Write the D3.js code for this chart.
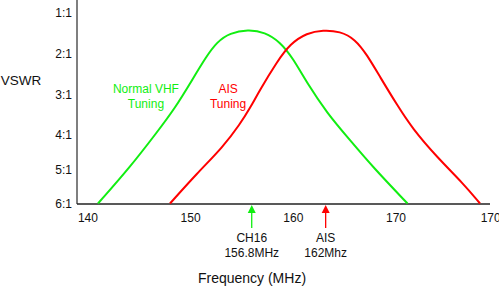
<!DOCTYPE html>
<html>
<head>
<meta charset="utf-8">
<script src="https://cdn.jsdelivr.net/npm/d3@7"></script>
<style>
  body { margin: 0; background: #fff; }
  svg { display: block; font-family: "Liberation Sans", Arial, sans-serif; }
</style>
</head>
<body>
<script>
// VSWR (x:1) against frequency
const vswrTicks = [1, 2, 3, 4, 5, 6];
const freqTicks = [140, 150, 160, 170, 180];
const freqTickLabels = ["140", "150", "160", "170", "170"]; // the original labels the last tick 170 too

const vhfFreq = [141.03, 144.15, 146.78, 148.53, 150.19, 151.55, 152.62, 153.88, 155.63, 157.29, 158.75, 160.01, 161.38, 163.33, 165.57, 167.81, 171.17];
const vhfVswr = [6.0, 4.94, 3.93, 3.34, 2.65, 2.08, 1.71, 1.49, 1.41, 1.47, 1.71, 2.11, 2.72, 3.46, 4.15, 4.94, 6.0];

const aisFreq = [148.04, 150.67, 153.2, 154.86, 155.83, 156.8, 158.46, 159.73, 161.38, 162.94, 164.6, 166.06, 167.23, 168.49, 170.15, 171.61, 174.05, 176.58, 178.23];
const aisVswr = [6.0, 5.12, 4.35, 3.73, 3.34, 2.89, 2.2, 1.76, 1.49, 1.42, 1.45, 1.64, 2.03, 2.57, 3.26, 3.83, 4.65, 5.41, 6.0];

const markerFreq = [156.0, 163.2];
const markerLines = [["CH16", "156.8MHz"], ["AIS", "162Mhz"]];

const green = "#11ee11";
const red = "#ff0000";

const width = 499, height = 286;
const axisX = 77, axisY = 204;

const x = d3.scaleLinear([140, 180], [87.4, 498.2]);
const y = d3.scaleLinear([1, 4, 6], [13, 135, 203.5]);

const svg = d3.select("body").append("svg")
  .attr("width", width)
  .attr("height", height)
  .attr("viewBox", [0, 0, width, height]);

// y axis
svg.append("g")
  .attr("transform", `translate(${axisX},0)`)
  .call(d3.axisLeft(y).tickValues(vswrTicks).tickFormat(d => d + ":1").tickSize(0).tickPadding(5))
  .call(g => g.select(".domain").remove())
  .call(g => g.selectAll("text").attr("font-size", 12).attr("fill", "#111").attr("font-family", null));

// x axis
svg.append("g")
  .attr("transform", `translate(0,${axisY})`)
  .call(d3.axisBottom(x).tickValues(freqTicks).tickFormat((d, i) => freqTickLabels[i]).tickSize(0).tickPadding(9))
  .call(g => g.select(".domain").remove())
  .call(g => g.selectAll("text").attr("font-size", 12).attr("fill", "#111").attr("font-family", null))
  .call(g => g.selectAll(".tick:last-of-type text").attr("dx", -8));

svg.append("line")
  .attr("x1", axisX).attr("x2", axisX)
  .attr("y1", 0).attr("y2", axisY)
  .attr("stroke", "#555").attr("stroke-width", 1.5);
svg.append("line")
  .attr("x1", axisX).attr("x2", 490)
  .attr("y1", axisY).attr("y2", axisY)
  .attr("stroke", "#222").attr("stroke-width", 1.5);

// tuning curves
const line = d3.line()
  .x(d => x(d[0]))
  .y(d => y(d[1]))
  .curve(d3.curveBasis);

[[vhfFreq, vhfVswr, green], [aisFreq, aisVswr, red]].forEach(([F, V, c]) => {
  svg.append("path")
    .datum(d3.zip(F, V))
    .attr("fill", "none")
    .attr("stroke", c)
    .attr("stroke-width", 2)
    .attr("stroke-linejoin", "round")
    .attr("d", line);
});

// curve labels
const curveLabels = svg.append("g").attr("font-size", 12).attr("text-anchor", "middle");
curveLabels.append("text").attr("fill", green)
  .selectAll("tspan").data(["Normal VHF", "Tuning"]).join("tspan")
  .attr("x", x(145.7)).attr("y", (d, i) => y(2.87) + 4 + i * 15).text(d => d);
curveLabels.append("text").attr("fill", red)
  .selectAll("tspan").data(["AIS", "Tuning"]).join("tspan")
  .attr("x", x(153.7)).attr("y", (d, i) => y(2.87) + 4 + i * 15).text(d => d);

// channel markers
const marker = svg.append("g")
  .selectAll("g")
  .data(markerFreq)
  .join("g")
  .attr("transform", d => `translate(${x(d)},${axisY + 1})`);

marker.append("line")
  .attr("y1", 6).attr("y2", 23)
  .attr("stroke", (d, i) => [green, red][i])
  .attr("stroke-width", 1.3);
marker.append("path")
  .attr("d", "M0,0L4,8L-4,8Z")
  .attr("fill", (d, i) => [green, red][i]);
marker.append("text")
  .attr("font-size", 12)
  .attr("text-anchor", "middle")
  .attr("fill", "#111")
  .selectAll("tspan")
  .data((d, i) => markerLines[i])
  .join("tspan")
  .attr("x", 0)
  .attr("y", (d, i) => 37 + i * 14.5)
  .text(d => d);

// axis titles
svg.append("text")
  .attr("x", 21).attr("y", y(2.65) + 5)
  .attr("font-size", 13.5).attr("text-anchor", "middle").attr("fill", "#111")
  .text("VSWR");
svg.append("text")
  .attr("x", 252).attr("y", 283)
  .attr("font-size", 14).attr("text-anchor", "middle").attr("fill", "#111")
  .text("Frequency (MHz)");
</script>
</body>
</html>
